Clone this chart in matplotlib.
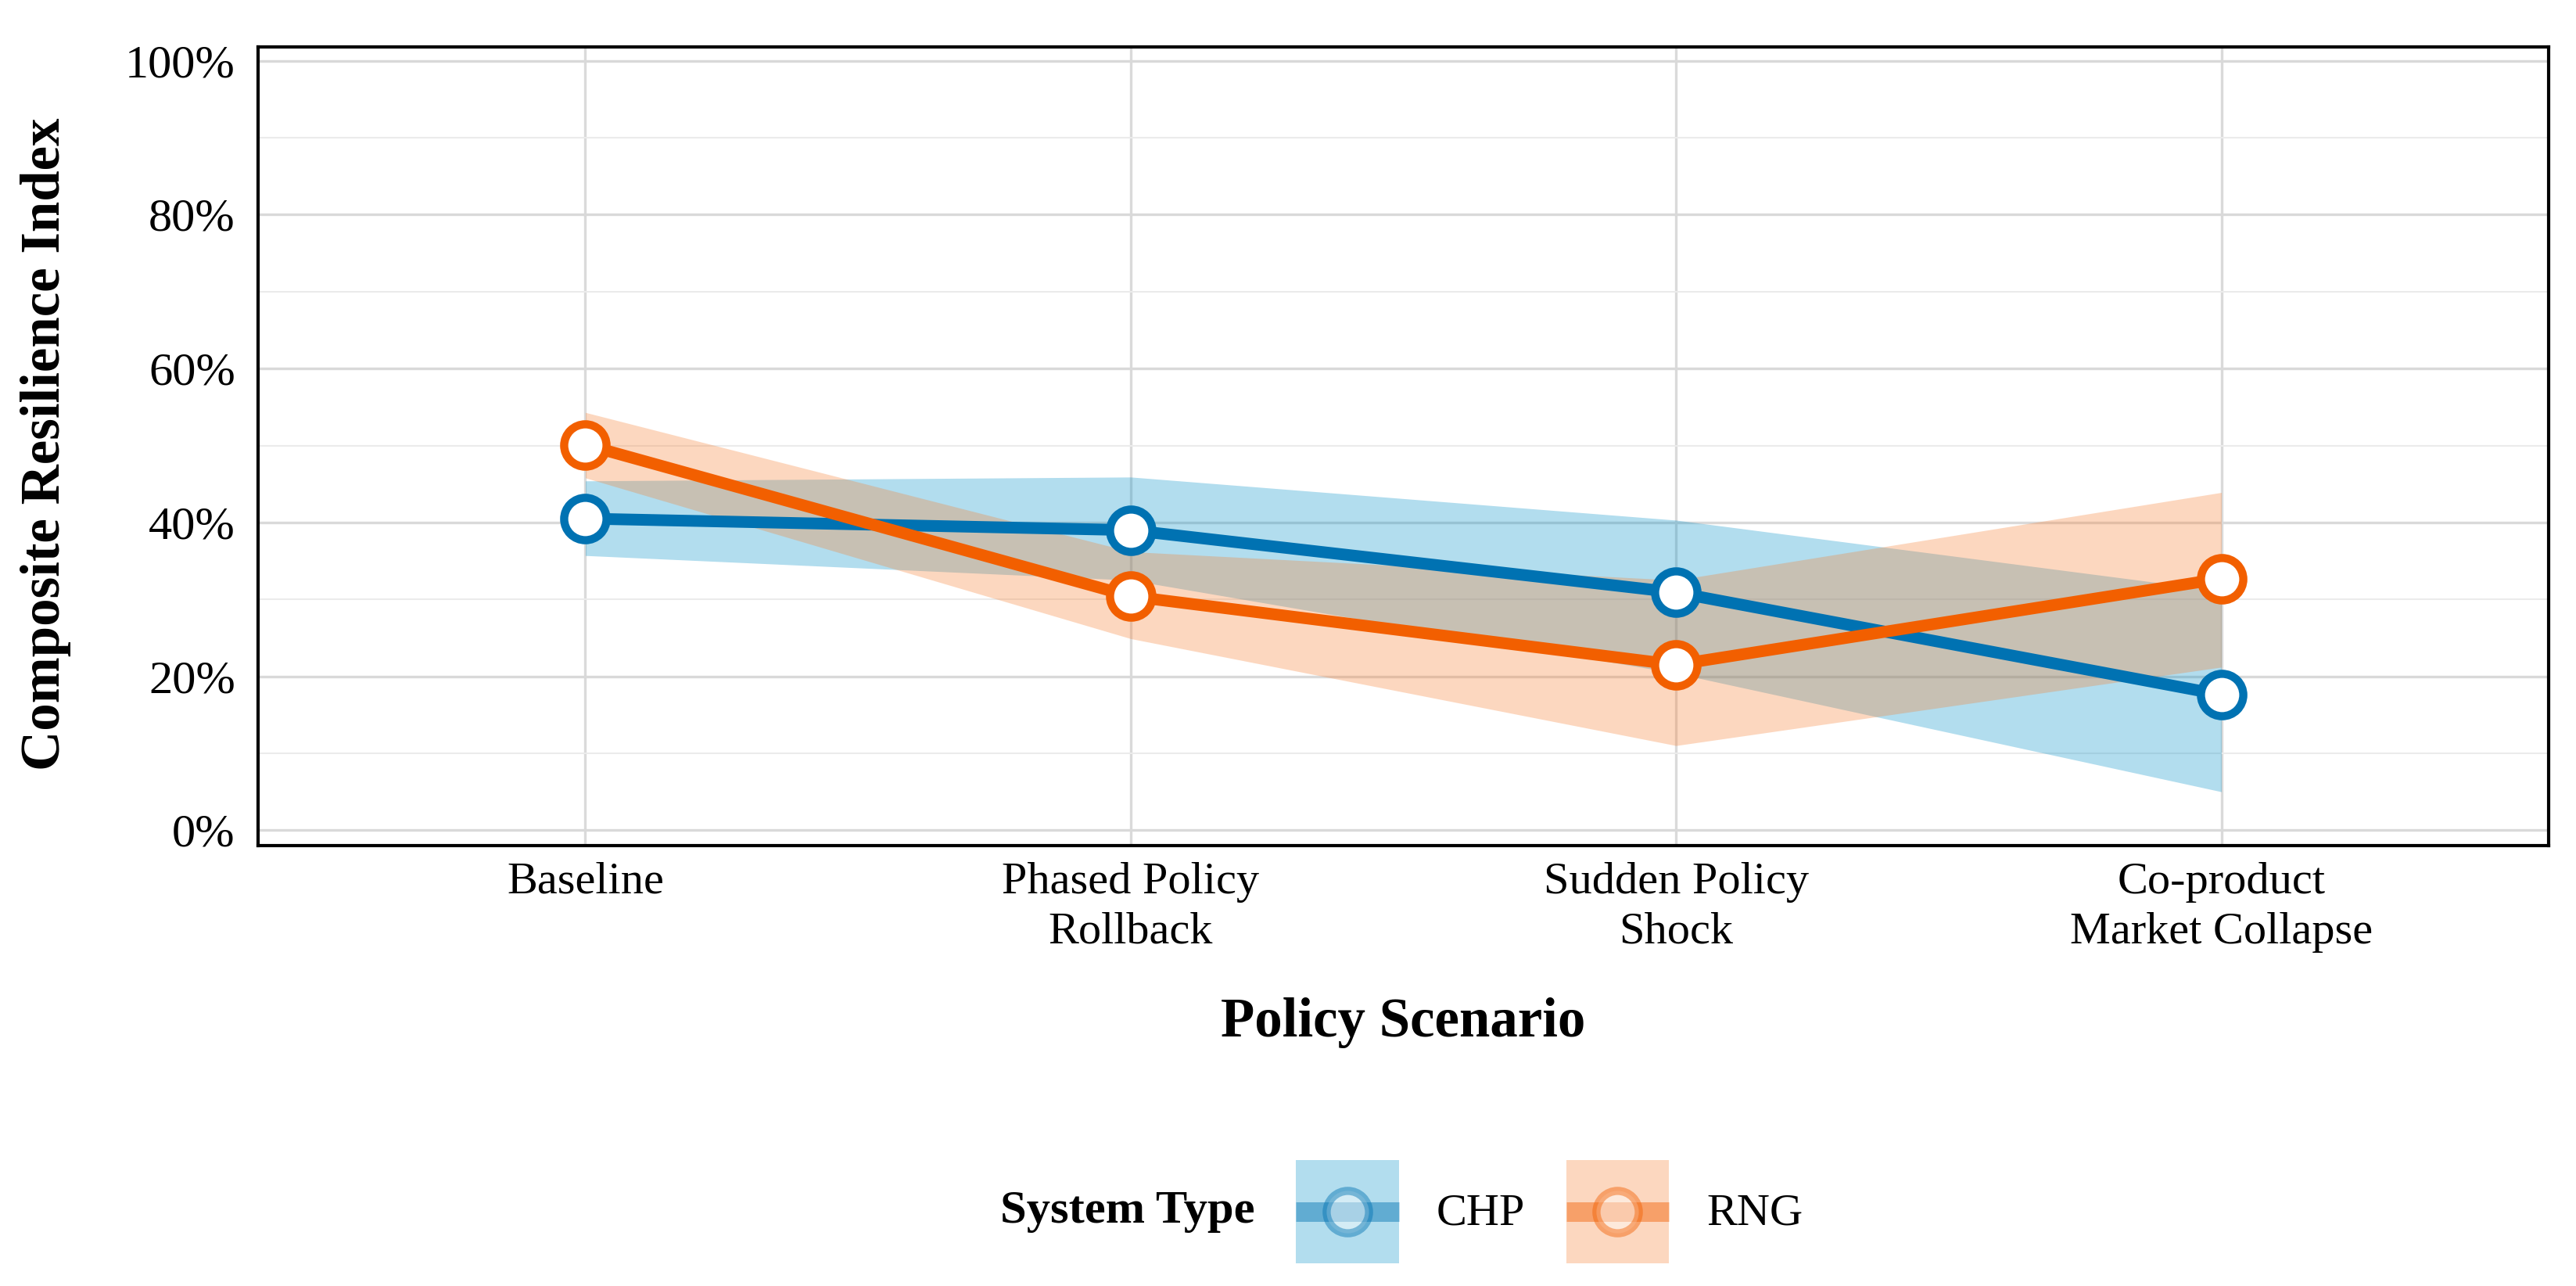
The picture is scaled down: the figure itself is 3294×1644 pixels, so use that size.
import numpy as np
import matplotlib
matplotlib.use("Agg")
import matplotlib.pyplot as plt
from matplotlib.lines import Line2D
from matplotlib.patches import Rectangle
from matplotlib.ticker import PercentFormatter, MultipleLocator


scenarios = ["Baseline", "Phased Policy\nRollback", "Sudden Policy\nShock",
             "Co-product\nMarket Collapse"]

chp_mean = [0.405, 0.390, 0.309, 0.176]
chp_low = [0.357, 0.325, 0.204, 0.050]
chp_high = [0.454, 0.459, 0.403, 0.311]

rng_mean = [0.501, 0.304, 0.215, 0.327]
rng_low = [0.458, 0.249, 0.110, 0.212]
rng_high = [0.543, 0.362, 0.325, 0.439]

systems = ["CHP", "RNG"]
line_colors = {"CHP": "#0072B2", "RNG": "#F25F00"}
fill_colors = {"CHP": "#0090C8", "RNG": "#F87D2D"}


class KeyHandler:
    # ribbon box with the line and point centred in it, like a ggplot key
    def legend_artist(self, legend, orig_handle, fontsize, handlebox):
        name = orig_handle
        x0, y0 = -handlebox.xdescent, -handlebox.ydescent
        w, h = handlebox.width, handlebox.height
        tr = handlebox.get_transform()
        box = Rectangle((x0, y0), w, h, facecolor=fill_colors[name],
                        alpha=0.3, edgecolor="none", transform=tr)
        line = Line2D([x0, x0 + w], [y0 + h / 2] * 2, color=line_colors[name],
                      lw=6, alpha=0.45, solid_capstyle="butt", transform=tr)
        dot = Line2D([x0 + w / 2], [y0 + h / 2], linestyle="none", marker="o",
                     ms=13, mew=2.5, markerfacecolor="white",
                     markeredgecolor=line_colors[name], alpha=0.45,
                     transform=tr)
        for a in (box, line, dot):
            handlebox.add_artist(a)
        return box


def main():
    plt.rcParams["font.family"] = ["Liberation Serif", "DejaVu Serif"]

    fig = plt.figure(figsize=(3295 / 300, 1644 / 300), dpi=300)
    ax = fig.add_axes([330 / 3295, 1 - 1081 / 1644,
                       (3259 - 330) / 3295, (1081 - 60) / 1644])

    x = np.arange(1, len(scenarios) + 1)
    series = {
        "CHP": (chp_mean, chp_low, chp_high),
        "RNG": (rng_mean, rng_low, rng_high),
    }

    for name in systems:
        mean, low, high = series[name]
        ax.fill_between(x, low, high, color=fill_colors[name], alpha=0.3,
                        linewidth=0, zorder=2)

    for name in systems:
        mean, low, high = series[name]
        ax.plot(x, mean, color=line_colors[name], lw=3.6, zorder=3,
                solid_capstyle="butt")
        ax.plot(x, mean, linestyle="none", marker="o", ms=13, mew=2.5,
                markerfacecolor="white", markeredgecolor=line_colors[name],
                zorder=4)

    ax.set_xlim(0.4, 4.6)
    ax.set_ylim(-0.02, 1.018)
    ax.set_xticks(x)
    ax.set_xticklabels(scenarios, fontsize=14, linespacing=1.3)
    ax.yaxis.set_major_locator(MultipleLocator(0.2))
    ax.yaxis.set_minor_locator(MultipleLocator(0.1))
    ax.yaxis.set_major_formatter(PercentFormatter(1.0, decimals=0))
    ax.tick_params(axis="y", labelsize=14.5, length=0, pad=7, which="both")
    ax.tick_params(axis="x", length=0, pad=5)

    ax.grid(True, axis="y", which="major", color="#D9D9D9", lw=0.8, zorder=0)
    ax.grid(True, axis="y", which="minor", color="#EBEBEB", lw=0.5, zorder=0)
    ax.grid(True, axis="x", which="major", color="#DADADA", lw=0.8, zorder=0)
    ax.set_axisbelow(True)
    for sp in ax.spines.values():
        sp.set_color("black")
        sp.set_linewidth(1.0)

    fig.text(59 / 3295, 1 - 568 / 1644, "Composite Resilience Index",
             rotation=90, ha="center", va="center", fontsize=17,
             fontweight="bold")
    fig.text((330 + 3259) / 2 / 3295, 1 - 1307 / 1644, "Policy Scenario",
             ha="center", va="center", fontsize=17, fontweight="bold")

    fig.legend(systems, systems, loc="center left",
               bbox_to_anchor=(1657 / 3295, 1 - 1549 / 1644),
               ncol=2, frameon=False, fontsize=14, borderpad=0,
               borderaxespad=0, handlelength=2.26, handleheight=3.13,
               handletextpad=0.82, columnspacing=0.9,
               handler_map={str: KeyHandler()})
    fig.text(1605 / 3295, 1 - 1549 / 1644, "System Type", ha="right",
             va="center", fontsize=14.5, fontweight="bold")

    fig.savefig("out.png", dpi=300)


if __name__ == "__main__":
    main()
